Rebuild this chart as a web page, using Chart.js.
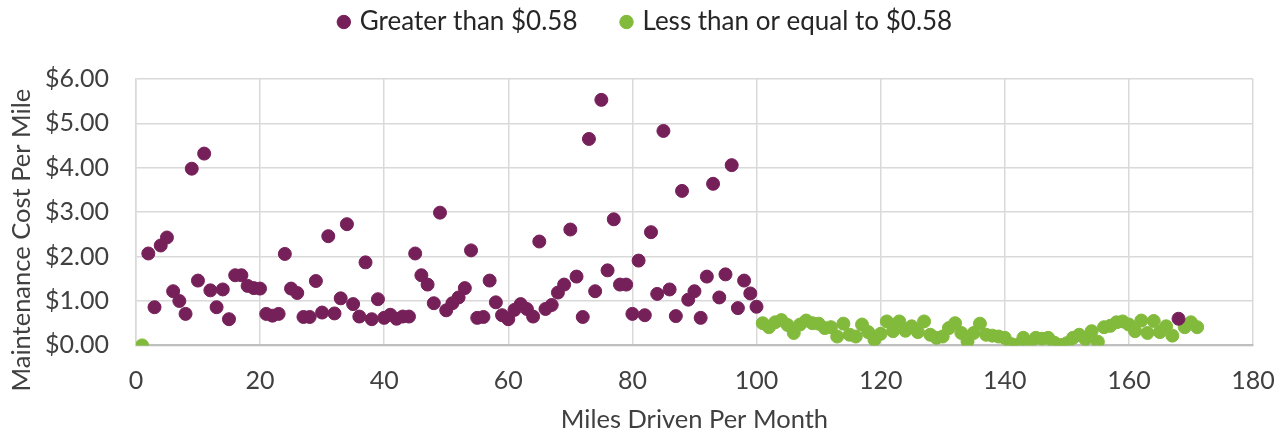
<!DOCTYPE html>
<html>
<head>
<meta charset="utf-8">
<script src="https://cdn.jsdelivr.net/npm/chart.js@4/dist/chart.umd.min.js"></script>
<style>
  html, body { margin: 0; padding: 0; background: #fff; }
  #wrap { width: 1283px; height: 435px; }
</style>
</head>
<body>
<div id="wrap"><canvas id="myChart"></canvas></div>
<script>
// Greater than $0.58 (miles 2..100 and 168)
const greaterMiles = [2,3,4,5,6,7,8,9,10,11,12,13,14,15,16,17,18,19,20,21,22,23,24,25,26,27,28,29,30,31,32,33,34,35,36,37,38,39,40,41,42,43,44,45,46,47,48,49,50,51,52,53,54,55,56,57,58,59,60,61,62,63,64,65,66,67,68,69,70,71,72,73,74,75,76,77,78,79,80,81,82,83,84,85,86,87,88,89,90,91,92,93,94,95,96,97,98,99,100,168];
const greaterCost = [2.07,0.86,2.25,2.43,1.22,1.00,0.71,3.98,1.46,4.32,1.24,0.86,1.26,0.59,1.58,1.58,1.34,1.29,1.28,0.71,0.67,0.71,2.06,1.28,1.18,0.64,0.64,1.45,0.74,2.46,0.72,1.06,2.73,0.93,0.65,1.87,0.59,1.04,0.62,0.69,0.60,0.65,0.65,2.07,1.58,1.37,0.95,2.99,0.79,0.95,1.08,1.29,2.14,0.62,0.64,1.46,0.97,0.68,0.59,0.80,0.93,0.82,0.65,2.34,0.82,0.91,1.19,1.37,2.61,1.55,0.64,4.65,1.22,5.53,1.69,2.84,1.37,1.37,0.71,1.91,0.68,2.55,1.16,4.83,1.26,0.66,3.48,1.03,1.22,0.62,1.55,3.64,1.08,1.60,4.06,0.84,1.46,1.17,0.87,0.60];

// Less than or equal to $0.58
const lessMiles = [1,101,102,103,104,105,106,107,108,109,110,111,112,113,114,115,116,117,118,119,120,121,122,123,124,125,126,127,128,129,130,131,132,133,134,135,136,137,138,139,140,141,142,143,144,145,146,147,148,149,150,151,152,153,154,155,156,157,158,159,160,161,162,163,164,165,166,167,169,170,171];
const lessCost = [0.00,0.50,0.41,0.52,0.57,0.46,0.28,0.47,0.56,0.50,0.49,0.39,0.41,0.20,0.49,0.24,0.20,0.47,0.30,0.13,0.26,0.54,0.32,0.54,0.33,0.43,0.30,0.54,0.24,0.17,0.20,0.39,0.50,0.28,0.09,0.28,0.49,0.24,0.22,0.20,0.17,0.03,0.01,0.17,0.03,0.17,0.15,0.17,0.06,0.01,0.05,0.17,0.24,0.14,0.32,0.08,0.41,0.44,0.52,0.54,0.47,0.32,0.56,0.28,0.55,0.30,0.43,0.22,0.41,0.52,0.41];

const seriesLabels = ['Greater than $0.58', 'Less than or equal to $0.58'];
const xTitle = 'Miles Driven Per Month';
const yTitle = 'Maintenance Cost Per Mile';

function toPoints(xs, ys) {
    return xs.map((x, i) => ({ x: x, y: ys[i] }));
}

const fontFamily = 'Lato, "Open Sans", sans-serif';

// extra room under the legend, and nudge it a little to the right
const legendGap = {
    id: 'legendGap',
    beforeInit(chart) {
        const fit = chart.legend.fit;
        chart.legend.fit = function() {
            fit.bind(chart.legend)();
            this.height += 34;
        };
    },
    afterLayout(chart) {
        chart.legend.left += 11;
        chart.legend.right += 11;
    }
};

// y axis title, sitting a bit below the middle of the plot like in Excel
const yTitlePlugin = {
    id: 'yTitlePlugin',
    afterDraw(chart) {
        const c = chart.ctx;
        const area = chart.chartArea;
        c.save();
        c.translate(22, (area.top + area.bottom) / 2 + 28);
        c.rotate(-Math.PI / 2);
        c.font = '25.5px ' + fontFamily;
        c.fillStyle = '#404040';
        c.textAlign = 'center';
        c.textBaseline = 'middle';
        c.fillText(yTitle, 0, 0);
        c.restore();
    }
};

const ctx = document.getElementById('myChart').getContext('2d');
const myChart = new Chart(ctx, {
    type: 'scatter',
    data: {
        datasets: [{
            label: seriesLabels[0],
            data: toPoints(greaterMiles, greaterCost),
            backgroundColor: '#76205A',
            borderColor: '#76205A',
            pointRadius: 6.5,
            pointHoverRadius: 6.5
        }, {
            label: seriesLabels[1],
            data: toPoints(lessMiles, lessCost),
            backgroundColor: '#82BA3C',
            borderColor: '#82BA3C',
            pointRadius: 6.5,
            pointHoverRadius: 6.5
        }]
    },
    options: {
        responsive: true,
        maintainAspectRatio: false,
        animation: false,
        layout: { padding: { left: 18, right: 30, top: -37, bottom: 0 } },
        plugins: {
            tooltip: { enabled: false },
            legend: {
                position: 'top',
                labels: {
                    usePointStyle: true,
                    pointStyle: 'circle',
                    boxWidth: 6,
                    boxHeight: 9.5,
                    padding: 46,
                    color: '#262626',
                    font: { family: fontFamily, size: 26 }
                }
            }
        },
        scales: {
            x: {
                type: 'linear',
                min: 0,
                max: 180,
                ticks: {
                    stepSize: 20,
                    maxRotation: 0,
                    minRotation: 0,
                    color: '#404040',
                    padding: 8,
                    font: { family: fontFamily, size: 25 }
                },
                grid: {
                    color: '#d9d9d9',
                    lineWidth: 1.5,
                    drawTicks: true,
                    tickLength: 13,
                    tickColor: 'rgba(0,0,0,0)'
                },
                border: { color: '#bfbfbf', width: 2 },
                title: {
                    display: true,
                    text: xTitle,
                    color: '#404040',
                    padding: { top: 0, bottom: 0 },
                    font: { family: fontFamily, size: 25.5 }
                }
            },
            y: {
                min: 0,
                max: 6,
                ticks: {
                    stepSize: 1,
                    color: '#404040',
                    padding: 27,
                    font: { family: fontFamily, size: 25 },
                    callback: v => '$' + v.toFixed(2)
                },
                grid: { color: '#d9d9d9', lineWidth: 1.5, drawTicks: false },
                border: { color: '#d9d9d9', width: 1.5 }
            }
        }
    },
    plugins: [legendGap, yTitlePlugin]
});
</script>
</body>
</html>
